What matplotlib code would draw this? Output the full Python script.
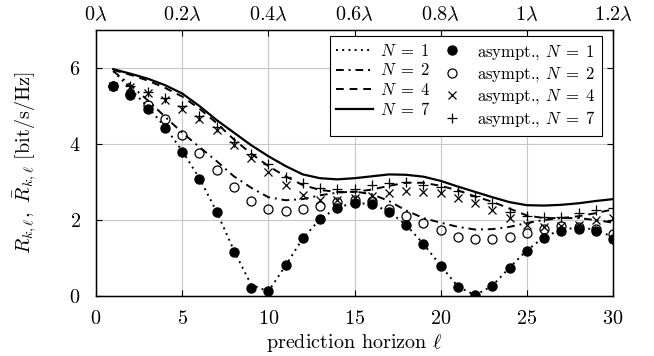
import matplotlib
matplotlib.use("Agg")
import matplotlib.pyplot as plt
from matplotlib.legend_handler import HandlerLine2D

# prediction horizon and rates
ell = list(range(1, 31))

rate_n1 = [5.92, 5.45, 4.98, 4.45, 3.82, 3.10, 2.22, 1.20, 0.30, 0.12,
           0.80, 1.52, 2.02, 2.33, 2.45, 2.42, 2.22, 1.87, 1.37, 0.80,
           0.25, 0.02, 0.27, 0.75, 1.20, 1.55, 1.75, 1.80, 1.75, 1.55]
rate_n2 = [5.92, 5.55, 5.15, 4.72, 4.30, 3.92, 3.55, 3.15, 2.85, 2.60,
           2.52, 2.55, 2.65, 2.72, 2.75, 2.68, 2.50, 2.25, 2.05, 1.93,
           1.82, 1.75, 1.76, 1.82, 1.92, 2.00, 2.05, 2.05, 2.00, 1.93]
rate_n4 = [5.95, 5.82, 5.67, 5.48, 5.25, 4.93, 4.55, 4.12, 3.75, 3.42,
           3.15, 2.92, 2.79, 2.74, 2.74, 2.80, 2.90, 2.98, 2.98, 2.90,
           2.78, 2.62, 2.48, 2.30, 2.12, 2.05, 2.05, 2.10, 2.18, 2.28]
rate_n7 = [5.97, 5.85, 5.72, 5.55, 5.33, 5.00, 4.63, 4.30, 3.97, 3.68,
           3.42, 3.20, 3.10, 3.07, 3.10, 3.15, 3.20, 3.19, 3.14, 3.03,
           2.88, 2.74, 2.60, 2.47, 2.39, 2.38, 2.40, 2.44, 2.50, 2.55]

asym_n1 = [5.53, 5.29, 4.91, 4.41, 3.80, 3.07, 2.20, 1.17, 0.22, 0.12,
           0.81, 1.52, 2.02, 2.31, 2.44, 2.41, 2.21, 1.86, 1.37, 0.80,
           0.25, 0.02, 0.26, 0.74, 1.18, 1.52, 1.71, 1.76, 1.70, 1.49]
asym_n2 = [5.53, 5.31, 5.03, 4.66, 4.24, 3.77, 3.32, 2.86, 2.51, 2.29,
           2.25, 2.29, 2.38, 2.48, 2.52, 2.50, 2.30, 2.10, 1.93, 1.74,
           1.56, 1.49, 1.49, 1.54, 1.66, 1.77, 1.83, 1.82, 1.76, 1.62]
asym_n4 = [5.53, 5.50, 5.34, 5.17, 4.93, 4.65, 4.36, 3.98, 3.63, 3.26,
           2.92, 2.66, 2.52, 2.52, 2.58, 2.63, 2.72, 2.76, 2.74, 2.70,
           2.59, 2.44, 2.26, 2.04, 1.87, 1.82, 1.83, 1.88, 1.99, 2.04]
asym_n7 = [5.53, 5.52, 5.38, 5.22, 5.00, 4.73, 4.45, 4.06, 3.75, 3.47,
           3.14, 2.97, 2.85, 2.81, 2.82, 2.92, 2.97, 2.99, 2.93, 2.86,
           2.76, 2.62, 2.46, 2.22, 2.11, 2.07, 2.08, 2.18, 2.26, 2.31]

x_ticks = [0, 5, 10, 15, 20, 25, 30]
top_labels = [r"$0\lambda$", r"$0.2\lambda$", r"$0.4\lambda$", r"$0.6\lambda$",
              r"$0.8\lambda$", r"$1\lambda$", r"$1.2\lambda$"]
y_ticks = [0, 2, 4, 6]

plt.rcParams["font.family"] = "serif"
plt.rcParams["font.serif"] = ["cmr10"]
plt.rcParams["mathtext.fontset"] = "cm"
plt.rcParams["axes.formatter.use_mathtext"] = True
plt.rcParams["font.size"] = 14.5


class RightMarker(HandlerLine2D):
    # marker sits at right end of handle, close to the text
    def get_xdata(self, legend, xdescent, ydescent, width, height, fontsize):
        xd, xm = super().get_xdata(legend, xdescent, ydescent, width, height, fontsize)
        return xd, [-xdescent + width - 5]


fig = plt.figure(figsize=(6.54, 3.56), dpi=100)
ax = fig.add_axes([0.1468, 0.1685, 0.7905, 0.7472])

lw = 1.4
l1, = ax.plot(ell, rate_n1, color="k", lw=lw, dashes=(1.0, 2.2), label=r"$N\;=\;1$")
l2, = ax.plot(ell, rate_n2, color="k", lw=lw, dashes=(4, 2.5, 1, 2.5), label=r"$N\;=\;2$")
l4, = ax.plot(ell, rate_n4, color="k", lw=lw, dashes=(4, 3), label=r"$N\;=\;4$")
l7, = ax.plot(ell, rate_n7, color="k", lw=1.6, label=r"$N\;=\;7$")

m1, = ax.plot(ell, asym_n1, ls="none", marker="o", ms=6.5, color="k",
              label=r"asympt., $N\;=\;1$", zorder=3)
m2, = ax.plot(ell, asym_n2, ls="none", marker="o", ms=6.5, mfc="none", mec="k",
              mew=0.9, label=r"asympt., $N\;=\;2$", zorder=3)
m4, = ax.plot(ell, asym_n4, ls="none", marker="x", ms=5.5, color="k", mew=0.9,
              label=r"asympt., $N\;=\;4$", zorder=3)
m7, = ax.plot(ell, asym_n7, ls="none", marker="+", ms=7, color="k", mew=0.9,
              label=r"asympt., $N\;=\;7$", zorder=3)

ax.set_xlim(0, 30)
ax.set_ylim(0, 7)
ax.set_xticks(x_ticks)
ax.set_yticks(y_ticks)
ax.grid(True, color="#c8c8c8", lw=0.8)
ax.set_axisbelow(True)
ax.tick_params(direction="in", length=4, width=0.8, right=True)
ax.tick_params(axis="y", pad=11)
ax.tick_params(axis="x", pad=10)
for s in ax.spines.values():
    s.set_linewidth(1.0)

ax2 = ax.twiny()
ax2.set_xlim(ax.get_xlim())
ax2.set_xticks(x_ticks)
ax2.set_xticklabels(top_labels)
ax2.tick_params(direction="in", length=4, width=0.8, pad=4)

ax.set_xlabel(r"prediction horizon $\ell$", labelpad=3)
ax.set_ylabel(r"$R_{k,\ell},\ \bar{R}_{k,\ell}$ [bit/s/Hz]", labelpad=22)

handles = [l1, l2, l4, l7, m1, m2, m4, m7]
hmap = {m: RightMarker(numpoints=1) for m in [m1, m2, m4, m7]}
leg = ax.legend(handles=handles, ncol=2, loc="upper right",
                bbox_to_anchor=(0.9787, 0.9774), borderaxespad=0,
                fancybox=False, edgecolor="k", framealpha=1, fontsize=12,
                handlelength=2.2, handletextpad=0.4, columnspacing=0.2,
                labelspacing=0.2, borderpad=0.4, handler_map=hmap)
leg.get_frame().set_linewidth(0.8)

fig.savefig("out.png", dpi=100)
